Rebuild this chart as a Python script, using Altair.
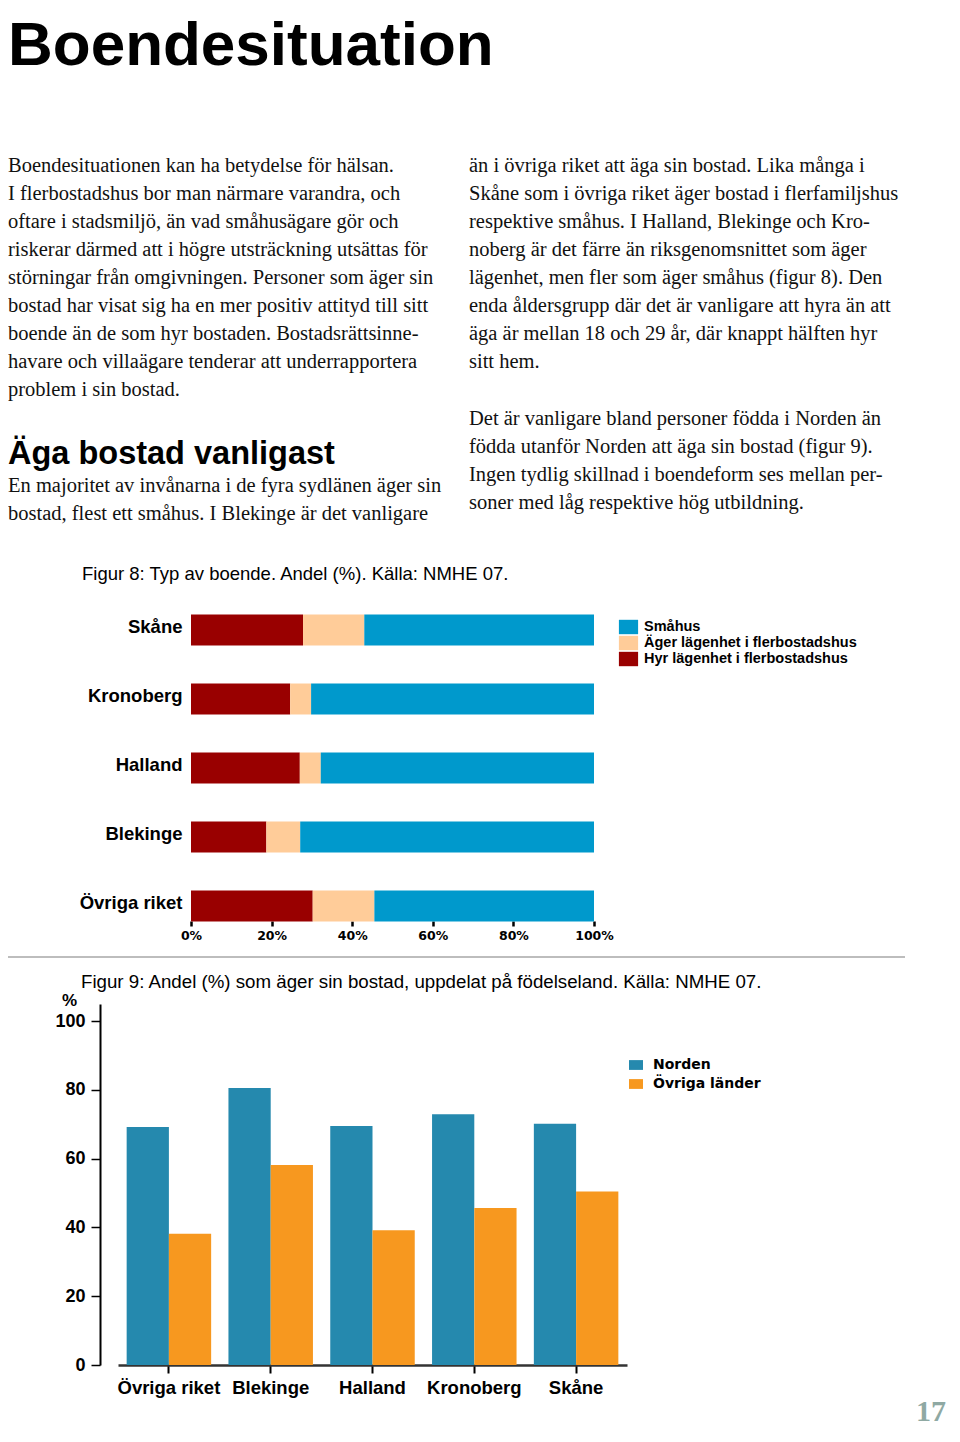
import altair as alt
import pandas as pd

H = 1418
W = 944

# ---------------- Figure 8 data ----------------
regions8 = ["Skåne", "Kronoberg", "Halland", "Blekinge", "Övriga riket"]
hyr8 = [27.8, 24.6, 27.0, 18.7, 30.2]
ager8 = [15.2, 5.2, 5.2, 8.4, 15.3]
smahus8 = [57.0, 70.2, 67.8, 72.9, 54.5]
types8 = ["Småhus", "Äger lägenhet i flerbostadshus", "Hyr lägenhet i flerbostadshus"]
colors8 = ["#0099CC", "#FFCC99", "#990000"]
ticks8 = [0, 0.2, 0.4, 0.6, 0.8, 1.0]

# ---------------- Figure 9 data ----------------
regions9 = ["Övriga riket", "Blekinge", "Halland", "Kronoberg", "Skåne"]
norden9 = [69.2, 80.6, 69.5, 72.9, 70.2]
ovriga9 = [38.2, 58.2, 39.2, 45.7, 50.5]
groups9 = ["Norden", "Övriga länder"]
colors9 = ["#2589AE", "#F7981F"]
ticks9 = [0, 20, 40, 60, 80, 100]

# ---------------- Page text ----------------
heading = "Boendesituation"
subheading = "Äga bostad vanligast"
left_lines = [
    "Boendesituationen kan ha betydelse för hälsan.",
    "I flerbostadshus bor man närmare varandra, och",
    "oftare i stadsmiljö, än vad småhusägare gör och",
    "riskerar därmed att i högre utsträckning utsättas för",
    "störningar från omgivningen. Personer som äger sin",
    "bostad har visat sig ha en mer positiv attityd till sitt",
    "boende än de som hyr bostaden. Bostadsrättsinne-",
    "havare och villaägare tenderar att underrapportera",
    "problem i sin bostad.",
]
left_lines2 = [
    "En majoritet av invånarna i de fyra sydlänen äger sin",
    "bostad, flest ett småhus. I Blekinge är det vanligare",
]
right_lines = [
    "än i övriga riket att äga sin bostad. Lika många i",
    "Skåne som i övriga riket äger bostad i flerfamiljshus",
    "respektive småhus. I Halland, Blekinge och Kro-",
    "noberg är det färre än riksgenomsnittet som äger",
    "lägenhet, men fler som äger småhus (figur 8). Den",
    "enda åldersgrupp där det är vanligare att hyra än att",
    "äga är mellan 18 och 29 år, där knappt hälften hyr",
    "sitt hem.",
]
right_lines2 = [
    "Det är vanligare bland personer födda i Norden än",
    "födda utanför Norden att äga sin bostad (figur 9).",
    "Ingen tydlig skillnad i boendeform ses mellan per-",
    "soner med låg respektive hög utbildning.",
]
title8 = "Figur 8: Typ av boende. Andel (%). Källa: NMHE 07."
title9 = "Figur 9: Andel (%) som äger sin bostad, uppdelat på födelseland. Källa: NMHE 07."
page_no = "17"

SANS = "Liberation Sans"
SERIF = "Liberation Serif"
BODY = 20.5

dummy = pd.DataFrame({"k": [0]})


def txt(s, x, y, size, font, weight="normal", color="#111111", align="left"):
    return alt.Chart(dummy).mark_text(
        text=s, align=align, baseline="alphabetic", font=font,
        fontSize=size, fontWeight=weight, color=color
    ).encode(x=alt.value(x), y=alt.value(y))


layers = []
layers.append(txt(heading, 0, 57, 62, SANS, "bold", "#000000"))
for i, s in enumerate(left_lines):
    layers.append(txt(s, 0, 164 + 28 * i, BODY, SERIF))
layers.append(txt(subheading, 0, 456, 32.5, SANS, "bold", "#000000"))
for i, s in enumerate(left_lines2):
    layers.append(txt(s, 0, 484 + 28 * i, BODY, SERIF))
for i, s in enumerate(right_lines):
    layers.append(txt(s, 461, 164 + 28 * i, BODY, SERIF))
for i, s in enumerate(right_lines2):
    layers.append(txt(s, 461, 417 + 28 * i, BODY, SERIF))
layers.append(txt(title8, 74, 572, 18.5, SANS, "normal", "#000000"))
layers.append(txt(title9, 73, 980, 18.7, SANS, "normal", "#000000"))
layers.append(txt(page_no, 938, 1413, 30, SERIF, "bold", "#8FA9A3", align="right"))

# separator rule
layers.append(
    alt.Chart(dummy).mark_rule(color="#BDBDBD", strokeWidth=2).encode(
        x=alt.value(0), x2=alt.value(897), y=alt.value(949)
    )
)

# ---------------- Figure 8 chart ----------------
rows8 = []
for r, h, a, s in zip(regions8, hyr8, ager8, smahus8):
    rows8.append({"region": r, "type": types8[2], "value": h, "ord": 0})
    rows8.append({"region": r, "type": types8[1], "value": a, "ord": 1})
    rows8.append({"region": r, "type": types8[0], "value": s, "ord": 2})
df8 = pd.DataFrame(rows8)

fig8 = alt.Chart(df8).mark_bar().encode(
    x=alt.X(
        "value:Q", stack="normalize",
        scale=alt.Scale(domain=[0, 1], range=[183, 586], nice=False),
        axis=alt.Axis(
            orient="bottom", offset=913 - H, values=ticks8, format="%",
            domain=False, grid=False, ticks=True, tickColor="#000000",
            tickWidth=2.5, tickSize=5, labelFont="DejaVu Sans",
            labelFontWeight="bold", labelFontSize=12.5, labelPadding=3,
            labelColor="#000000", labelFlush=False, title=None,
        ),
    ),
    y=alt.Y(
        "region:N", sort=regions8,
        scale=alt.Scale(domain=regions8, range=[587.5, 932.5],
                        paddingInner=0.551, paddingOuter=0.2755),
        axis=alt.Axis(
            orient="left", offset=-183, domain=False, ticks=False, grid=False,
            labelFont=SANS, labelFontWeight="bold", labelFontSize=18.5,
            labelColor="#000000", labelPadding=9, title=None, labelLimit=300,
            labelOffset=-3,
        ),
    ),
    color=alt.Color(
        "type:N",
        scale=alt.Scale(domain=types8, range=colors8),
        legend=alt.Legend(
            orient="none", legendX=612.5, legendY=611, title=None,
            symbolType="M-1.2,-0.9H1.2V0.9H-1.2Z", symbolSize=256,
            symbolStrokeWidth=0, symbolOpacity=1,
            labelFont=SANS, labelFontWeight="bold", labelFontSize=14.5,
            labelColor="#000000", labelOffset=7.5, rowPadding=0, padding=0,
            labelLimit=400,
        ),
    ),
    order=alt.Order("ord:Q"),
)
layers.append(fig8)

# ---------------- Figure 9 chart ----------------
rows9 = []
for r, n, o in zip(regions9, norden9, ovriga9):
    rows9.append({"region": r, "group": groups9[0], "value": n})
    rows9.append({"region": r, "group": groups9[1], "value": o})
df9 = pd.DataFrame(rows9)

fig9 = alt.Chart(df9).mark_bar().encode(
    x=alt.X(
        "region:N", sort=regions9,
        scale=alt.Scale(domain=regions9, range=[110, 619],
                        paddingInner=0.17, paddingOuter=0.085),
        axis=alt.Axis(
            orient="bottom", offset=1357 - H, labelAngle=0,
            domain=True, domainColor="#333333", domainWidth=2.5,
            ticks=True, tickColor="#000000", tickWidth=2, tickSize=8,
            grid=False, labelFont=SANS, labelFontWeight="bold",
            labelFontSize=18.5, labelColor="#000000", labelPadding=5,
            title=None,
        ),
    ),
    xOffset=alt.XOffset(
        "group:N", sort=groups9,
        scale=alt.Scale(domain=groups9, paddingInner=0, paddingOuter=0),
    ),
    y=alt.Y(
        "value:Q",
        scale=alt.Scale(domain=[0, 105], range=[1357, 996], nice=False, zero=True),
        axis=alt.Axis(
            orient="left", offset=-92, values=ticks9, grid=False,
            domain=True, domainColor="#000000", domainWidth=2,
            ticks=True, tickColor="#000000", tickWidth=1.5, tickSize=9,
            labelFont=SANS, labelFontWeight="bold", labelFontSize=18,
            labelColor="#000000", labelPadding=6,
            title="%", titleAngle=0, titleX=-31, titleY=992,
            titleBaseline="middle", titleAlign="center",
            titleFont=SANS, titleFontWeight="bold", titleFontSize=17,
            titleColor="#000000",
        ),
    ),
    color=alt.Color(
        "group:N",
        scale=alt.Scale(domain=groups9, range=colors9),
        legend=alt.Legend(
            orient="none", legendX=621, legendY=1050, title=None,
            symbolType="M-1,-0.7H1V0.7H-1Z", symbolSize=196,
            symbolStrokeWidth=0, symbolOpacity=1,
            labelFont="DejaVu Sans", labelFontWeight="bold", labelFontSize=14,
            labelColor="#000000", labelOffset=10, rowPadding=5, padding=0,
        ),
    ),
)
layers.append(fig9)

chart = alt.layer(*layers).resolve_scale(
    x="independent", y="independent", color="independent"
).properties(
    width=W, height=H, padding=0,
    autosize=alt.AutoSizeParams(type="none"),
    background="#FFFFFF",
).configure_view(stroke=None)

chart.save("out.html", embed_options={"renderer": "svg", "actions": False})
